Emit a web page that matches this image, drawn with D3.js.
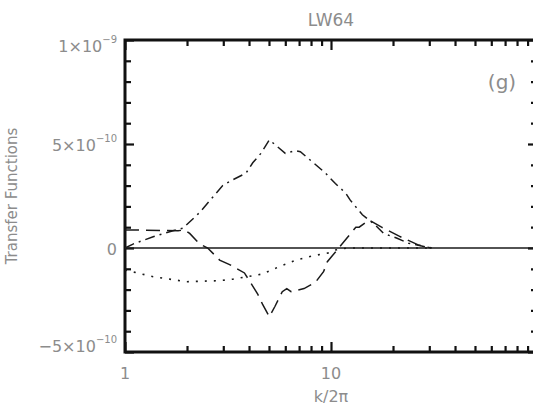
<!DOCTYPE html>
<html>
<head>
<meta charset="utf-8">
<script src="https://cdn.jsdelivr.net/npm/d3@7/dist/d3.min.js"></script>
<style>
  html, body { margin: 0; padding: 0; background: #fff; }
  svg { display: block; }
  text { font-family: "DejaVu Sans", sans-serif; fill: #8c8c8c; }
</style>
</head>
<body>
<svg id="chart" width="533" height="407"></svg>
<script>
// Transfer functions versus wavenumber k/2π, run LW64, panel (g)

// dash-dot curve
const kDashDot = [1, 1.1, 1.37, 1.71, 1.91, 2.3, 2.98, 3.22, 3.87, 4.17, 4.57, 5.02, 5.5, 6.0, 6.75, 7.1, 8.1, 9.4, 10.5, 11.8, 12.4, 14.2, 16.4, 18.0, 20.8, 23.8, 28.7, 31];
const vDashDot = [0, 0.2e-10, 0.54e-10, 0.83e-10, 0.95e-10, 1.7e-10, 3.0e-10, 3.2e-10, 3.6e-10, 4.1e-10, 4.55e-10, 5.2e-10, 4.87e-10, 4.55e-10, 4.68e-10, 4.63e-10, 4.15e-10, 3.6e-10, 3.1e-10, 2.63e-10, 2.3e-10, 1.6e-10, 1.1e-10, 0.7e-10, 0.48e-10, 0.23e-10, 0.06e-10, 0];

// dashed curve
const kDashed = [1, 1.81, 1.95, 2.06, 2.3, 2.52, 2.88, 3.22, 3.8, 4.4, 4.65, 5.02, 5.35, 5.8, 6.1, 6.4, 7.4, 8.4, 9.2, 9.6, 10.9, 13.2, 13.7, 15.3, 17.6, 21.3, 26.5, 30.6];
const vDashed = [0.87e-10, 0.83e-10, 0.87e-10, 0.7e-10, 0.2e-10, 0, -0.58e-10, -0.8e-10, -1.2e-10, -2.2e-10, -2.7e-10, -3.3e-10, -2.8e-10, -2.1e-10, -1.95e-10, -2.1e-10, -1.95e-10, -1.65e-10, -1.14e-10, -0.66e-10, 0, 1.0e-10, 1.0e-10, 1.35e-10, 1.0e-10, 0.58e-10, 0.15e-10, 0];

// dotted curve
const kDotted = [1, 1.37, 1.99, 2.88, 3.34, 3.8, 4.6, 5.6, 6.75, 8.1, 9.8, 10.5, 12, 30];
const vDotted = [-1.06e-10, -1.38e-10, -1.62e-10, -1.57e-10, -1.5e-10, -1.4e-10, -1.26e-10, -0.9e-10, -0.58e-10, -0.38e-10, -0.23e-10, -0.1e-10, 0, 0];

// solid reference line
const kSolid = [1, 100];
const vSolid = [0, 0];

// axes
const xDomain = [1, 100];
const yDomain = [-5e-10, 1e-9];
const xMajorTicks = [1, 10, 100];
const xMinorTicks = [2, 3, 4, 5, 6, 7, 8, 9, 20, 30, 40, 50, 60, 70, 80, 90];
const xTickLabels = ["1", "10"];
const xLabelValues = [1, 10];
const yMajorTicks = [-5e-10, 0, 5e-10, 1e-9];
const yMinorTicks = [-4e-10, -3e-10, -2e-10, -1e-10, 1e-10, 2e-10, 3e-10, 4e-10, 6e-10, 7e-10, 8e-10, 9e-10];
const yTickMantissa = ["\u22125\u00d710", "0", "5\u00d710", "1\u00d710"];
const yTickExponent = ["\u221210", "", "\u221210", "\u22129"];

const svg = d3.select("#chart");
const plotL = 125, plotR = 537, plotT = 40, plotB = 352;

const x = d3.scaleLog().domain(xDomain).range([plotL, plotR]);
const y = d3.scaleLinear().domain(yDomain).range([plotB, plotT]);

// tick marks (inward) on all four sides
const ink = "#111";
function drawAxis(gen, tx, ty) {
  const g = svg.append("g").attr("transform", `translate(${tx},${ty})`).call(gen);
  g.select(".domain").remove();
  g.selectAll(".tick line").attr("stroke", ink).attr("stroke-width", 2.2);
  g.selectAll(".tick text").remove();
  return g;
}
drawAxis(d3.axisBottom(x).tickValues(xMinorTicks).tickSize(-6), 0, plotB);
drawAxis(d3.axisBottom(x).tickValues(xMajorTicks).tickSize(-10), 0, plotB);
drawAxis(d3.axisTop(x).tickValues(xMinorTicks).tickSize(-6), 0, plotT);
drawAxis(d3.axisTop(x).tickValues(xMajorTicks).tickSize(-10), 0, plotT);
drawAxis(d3.axisLeft(y).tickValues(yMinorTicks).tickSize(-6), plotL, 0);
drawAxis(d3.axisLeft(y).tickValues(yMajorTicks).tickSize(-9), plotL, 0);
drawAxis(d3.axisRight(y).tickValues(yMinorTicks).tickSize(-6), plotR, 0);
drawAxis(d3.axisRight(y).tickValues(yMajorTicks).tickSize(-9), plotR, 0);

// frame
svg.append("rect")
  .attr("x", plotL).attr("y", plotT)
  .attr("width", plotR - plotL).attr("height", plotB - plotT)
  .attr("fill", "none").attr("stroke", ink).attr("stroke-width", 3);

// curves
const line = d3.line().x(d => x(d[0])).y(d => y(d[1]));
const series = [
  { k: kSolid, v: vSolid, dash: null, w: 1.6 },
  { k: kDotted, v: vDotted, dash: "2,7", w: 1.6 },
  { k: kDashed, v: vDashed, dash: "14,7", w: 1.5 },
  { k: kDashDot, v: vDashDot, dash: "10,5,2,5", w: 1.5 }
];
svg.append("g").selectAll("path").data(series).join("path")
  .attr("d", s => line(d3.zip(s.k, s.v)))
  .attr("fill", "none")
  .attr("stroke", "#1a1a1a")
  .attr("stroke-width", s => s.w)
  .attr("stroke-dasharray", s => s.dash);

// y tick labels with superscript exponents
const yLab = svg.append("g");
yMajorTicks.forEach((v, i) => {
  const yy = Math.min(Math.max(y(v) + 2, plotT + 7), plotB - 5);
  const t = yLab.append("text")
    .attr("x", plotL - 8).attr("y", yy)
    .attr("text-anchor", "end")
    .attr("dominant-baseline", "middle")
    .attr("font-size", 16);
  t.append("tspan").text(yTickMantissa[i]);
  if (yTickExponent[i]) {
    t.append("tspan").attr("font-size", 10).attr("dy", -7).text(yTickExponent[i]);
  }
});

// x tick labels
svg.append("g").selectAll("text").data(xLabelValues).join("text")
  .attr("x", d => x(d)).attr("y", 374)
  .attr("text-anchor", "middle")
  .attr("dominant-baseline", "middle")
  .attr("font-size", 16)
  .text((d, i) => xTickLabels[i]);

// titles
svg.append("text").attr("x", (plotL + plotR) / 2).attr("y", 21)
  .attr("text-anchor", "middle").attr("dominant-baseline", "middle")
  .attr("font-size", 17).text("LW64");
svg.append("text").attr("x", (plotL + plotR) / 2).attr("y", 397)
  .attr("text-anchor", "middle").attr("dominant-baseline", "middle")
  .attr("font-size", 16).text("k/2\u03c0");
svg.append("text").attr("transform", `translate(12,${(plotT + plotB) / 2}) rotate(-90)`)
  .attr("text-anchor", "middle").attr("dominant-baseline", "middle")
  .attr("font-size", 15).text("Transfer Functions");
svg.append("text").attr("x", 502).attr("y", 83)
  .attr("text-anchor", "middle").attr("dominant-baseline", "middle")
  .attr("font-size", 20).text("(g)");
</script>
</body>
</html>
